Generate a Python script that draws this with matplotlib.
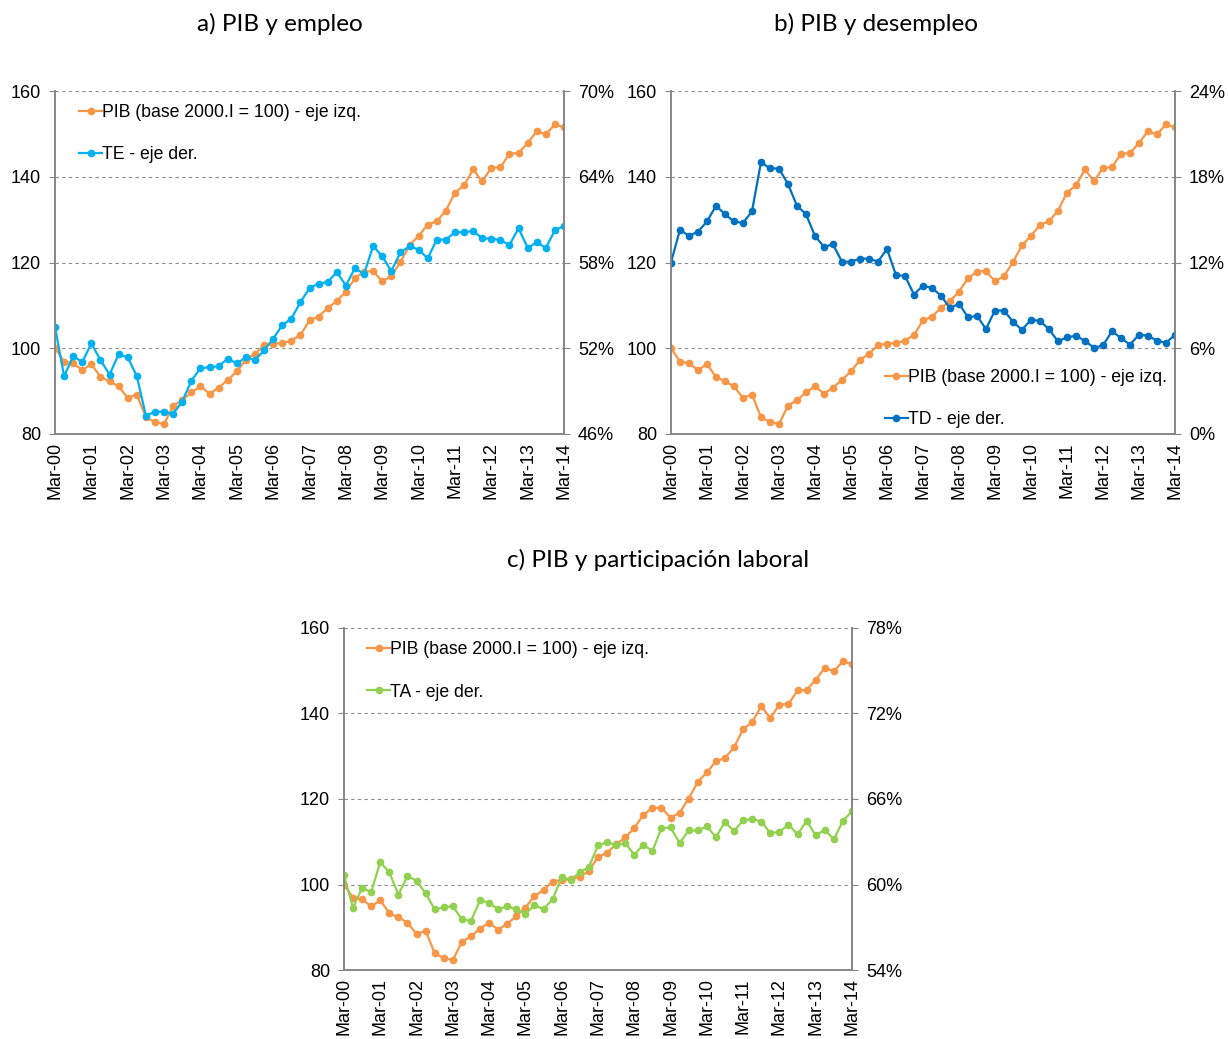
import matplotlib
matplotlib.use('Agg')
import matplotlib.pyplot as plt
import numpy as np
from matplotlib.ticker import FuncFormatter

plt.rcParams['font.family'] = ['Liberation Sans', 'DejaVu Sans']

# Datos trimestrales Mar-00 ... Mar-14
trimestres = ['Mar-%02d' % a for a in range(0, 15)]

pib = [100.0, 96.9, 96.5, 94.9, 96.3, 93.3, 92.3, 91.1, 88.4, 89.2,
       83.9, 82.8, 82.3, 86.6, 87.9, 89.7, 91.1, 89.4, 90.8, 92.6,
       94.6, 97.3, 98.7, 100.7, 101.1, 101.2, 101.8, 103.1, 106.5, 107.4,
       109.4, 111.0, 113.2, 116.3, 117.9, 118.0, 115.6, 116.8, 120.1, 124.0,
       126.2, 128.8, 129.6, 132.1, 136.3, 138.0, 141.7, 138.9, 142.1, 142.2,
       145.4, 145.5, 147.9, 150.6, 149.9, 152.2, 151.5]

te = [53.49, 50.05, 51.45, 51.03, 52.34, 51.17, 50.16, 51.57, 51.36, 50.05,
      47.28, 47.56, 47.56, 47.42, 48.27, 49.74, 50.59, 50.68, 50.75, 51.27,
      50.94, 51.36, 51.17, 51.85, 52.67, 53.61, 54.07, 55.22, 56.21, 56.53,
      56.63, 57.33, 56.39, 57.61, 57.19, 59.16, 58.43, 57.40, 58.71, 59.13,
      58.90, 58.29, 59.60, 59.60, 60.12, 60.12, 60.21, 59.70, 59.67, 59.56,
      59.23, 60.40, 59.02, 59.41, 59.02, 60.26, 60.56]

td = [12.00, 14.30, 13.86, 14.16, 14.87, 15.97, 15.38, 14.87, 14.77, 15.57,
      19.01, 18.59, 18.57, 17.49, 15.97, 15.38, 13.86, 13.09, 13.27, 12.06,
      12.06, 12.27, 12.27, 12.06, 12.95, 11.12, 11.07, 9.76, 10.39, 10.21,
      9.69, 8.80, 9.13, 8.17, 8.26, 7.35, 8.64, 8.64, 7.86, 7.28,
      8.00, 7.91, 7.33, 6.48, 6.76, 6.88, 6.51, 6.04, 6.20, 7.19,
      6.72, 6.25, 6.95, 6.88, 6.53, 6.39, 6.93]

ta = [60.66, 58.37, 59.75, 59.47, 61.57, 60.85, 59.29, 60.59, 60.27, 59.38,
      58.26, 58.40, 58.47, 57.56, 57.44, 58.89, 58.72, 58.26, 58.47, 58.26,
      57.95, 58.54, 58.28, 58.96, 60.52, 60.34, 60.85, 61.22, 62.74, 62.98,
      62.74, 62.91, 62.09, 62.79, 62.35, 63.96, 64.00, 62.91, 63.79, 63.79,
      64.07, 63.33, 64.38, 63.75, 64.50, 64.59, 64.42, 63.61, 63.68, 64.21,
      63.51, 64.47, 63.44, 63.84, 63.16, 64.47, 65.13]

# Colores tipo Excel
c_pib = '#F79646'
c_te = '#00B0F0'
c_td = '#0070C0'
c_ta = '#92D050'
c_eje = '#868686'

x = np.arange(len(pib))

fig = plt.figure(figsize=(12.28, 10.39), dpi=100)


def panel(rect, serie, color, etiqueta, ylim2, ticks2, leg_xy):
    ax = fig.add_axes(rect)
    ax2 = ax.twinx()
    l1, = ax.plot(x, pib, color=c_pib, lw=1.6, marker='o', ms=4.5,
                  label='PIB (base 2000.I = 100) - eje izq.')
    l2, = ax2.plot(x, np.array(serie) / 100, color=color, lw=1.6,
                   marker='o', ms=4.5, label=etiqueta)

    ax.set_xlim(0, 56)
    ax.set_ylim(80, 160)
    ax.set_yticks([80, 100, 120, 140, 160])
    ax.set_xticks(np.arange(0, 57, 4))
    ax.set_xticklabels(trimestres, rotation=90)
    ax.tick_params(axis='x', length=0, pad=6, labelsize=13)
    ax.tick_params(axis='y', length=4, color=c_eje, pad=6, labelsize=13)
    ax.grid(axis='y', ls=(0, (3, 3)), color='#8c8c8c', lw=0.8)
    ax.set_axisbelow(True)

    ax2.set_ylim(*ylim2)
    ax2.set_yticks(ticks2)
    ax2.yaxis.set_major_formatter(FuncFormatter(lambda v, p: '%d%%' % round(v * 100)))
    ax2.tick_params(axis='y', length=4, color=c_eje, pad=6, labelsize=13)

    for a in (ax, ax2):
        a.spines['top'].set_visible(False)
        for s in ('left', 'right', 'bottom'):
            a.spines[s].set_color(c_eje)
            a.spines[s].set_linewidth(1.2)

    ax2.legend(handles=[l1, l2], loc='upper left', bbox_to_anchor=leg_xy,
               frameon=False, fontsize=12.7, handlelength=1.3,
               handletextpad=0.0, labelspacing=1.45, borderpad=0,
               borderaxespad=0)
    return ax, ax2


panel([0.0448, 0.5823, 0.4145, 0.3301], te, c_te, 'TE - eje der.',
      (0.46, 0.70), [0.46, 0.52, 0.58, 0.64, 0.70], (0.048, 0.963))
panel([0.5464, 0.5823, 0.4104, 0.3301], td, c_td, 'TD - eje der.',
      (0.0, 0.24), [0.0, 0.06, 0.12, 0.18, 0.24], (0.424, 0.19))
panel([0.2801, 0.0664, 0.4137, 0.3292], ta, c_ta, 'TA - eje der.',
      (0.54, 0.78), [0.54, 0.60, 0.66, 0.72, 0.78], (0.046, 0.962))

tfont = dict(family=['Lato', 'DejaVu Sans'], fontsize=17.5, ha='center',
             va='center')
fig.text(280 / 1228, 1 - 24 / 1039, 'a) PIB y empleo', **tfont)
fig.text(876 / 1228, 1 - 24 / 1039, 'b) PIB y desempleo', **tfont)
fig.text(658 / 1228, 1 - 560 / 1039, 'c) PIB y participación laboral', **tfont)

fig.savefig('out.png', dpi=100)
